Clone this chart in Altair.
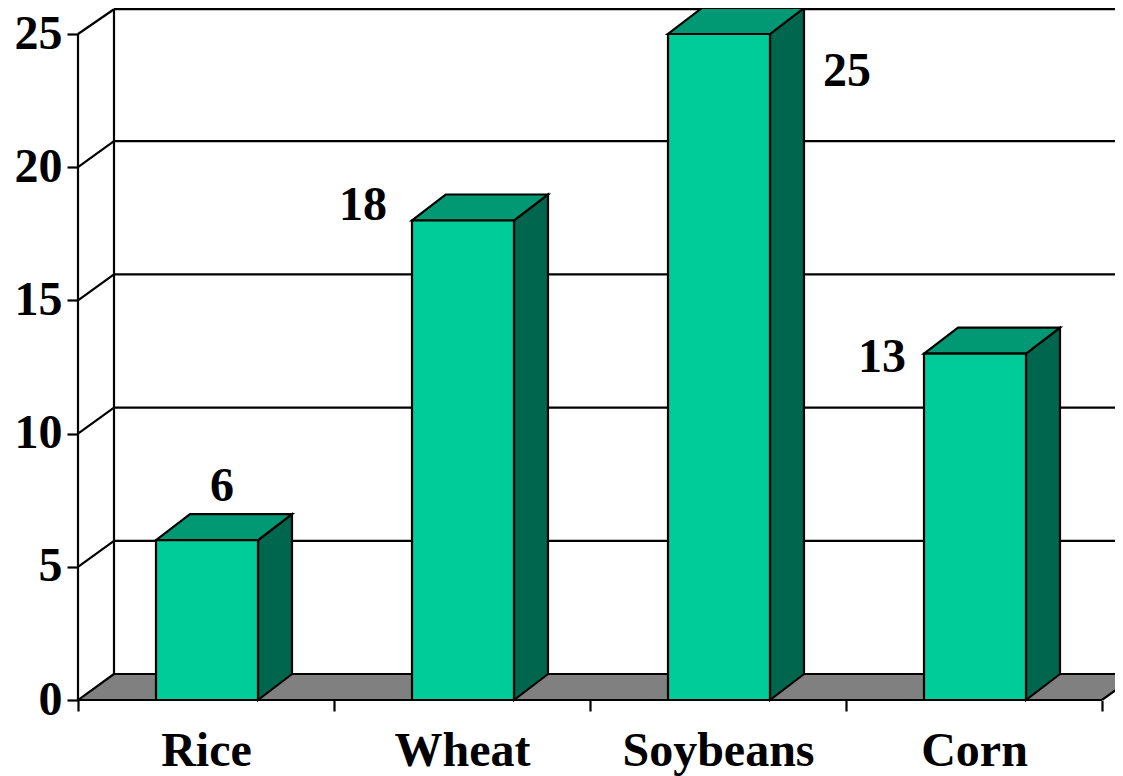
import altair as alt
import pandas as pd

categories = ["Rice", "Wheat", "Soybeans", "Corn"]
values = [6, 18, 25, 13]
y_ticks = [0, 5, 10, 15, 20, 25]
x_ticks = [0, 1, 2, 3, 4]
label_shift = [(15, -39), (-100, 0), (128, 52), (-93, 18)]

PX_X = 256.0
PX_Y = 26.64
VIEW_W = 1037
VIEW_H = 692
DX = 36 / PX_X
BAR_DX = 34 / PX_X
DY = 26 / PX_Y
BAR_GAP = 78 / PX_X
BAR_W = 102 / PX_X
N = len(categories)
TOP = 25.93
FONT = "Liberation Serif"

xs = alt.Scale(domain=[0, VIEW_W / PX_X], range=[0, VIEW_W], nice=False, zero=False)
ys = alt.Scale(domain=[0, VIEW_H / PX_Y], range=[VIEW_H, 0], nice=False, zero=False)
X = lambda f: alt.X(f"{f}:Q", scale=xs, title=None)
Y = lambda f: alt.Y(f"{f}:Q", scale=ys, title=None)
SW = 2.2

bars = pd.DataFrame({"cat": categories, "v": values})
bars["l"] = [i + BAR_GAP for i in range(N)]
bars["r"] = bars["l"] + BAR_W
bars["base"] = 0.0

side_rows, top_rows = [], []
for c, l, r, v in zip(categories, bars["l"], bars["r"], values):
    side_rows += [
        {"cat": c, "x": r, "y": 0.0, "y2": v},
        {"cat": c, "x": r + BAR_DX, "y": DY, "y2": v + DY},
    ]
    top_rows += [
        {"cat": c, "y": v, "x": l, "x2": r},
        {"cat": c, "y": v + DY, "x": l + BAR_DX, "x2": r + BAR_DX},
    ]
side = pd.DataFrame(side_rows)
top = pd.DataFrame(top_rows)

axes_layer = alt.Chart(pd.DataFrame({"x": [0.0], "y": [0.0]})).mark_point(opacity=0).encode(
    x=alt.X(
        "x:Q",
        scale=xs,
        title=None,
        axis=alt.Axis(
            values=x_ticks,
            grid=False,
            domain=False,
            zindex=1,
            tickSize=11,
            tickWidth=SW,
            tickColor="black",
            labelExpr="['Rice','Wheat','Soybeans','Corn',''][datum.value]",
            labelOffset=128,
            labelFont=FONT,
            labelFontSize=48,
            labelFontWeight="bold",
            labelColor="black",
            labelPadding=16,
            labelLimit=400,
            labelOverlap=False,
            labelBound=False,
            labelFlush=False,
        ),
    ),
    y=alt.Y(
        "y:Q",
        scale=ys,
        title=None,
        axis=alt.Axis(
            values=y_ticks,
            grid=False,
            domain=False,
            zindex=1,
            tickSize=11,
            tickWidth=SW,
            tickColor="black",
            labelFont=FONT,
            labelFontSize=48,
            labelFontWeight="bold",
            labelColor="black",
            labelPadding=5,
            labelOverlap=False,
            labelBound=False,
            labelFlush=False,
        ),
    ),
)

floor = pd.DataFrame({"y": [0.0, DY], "x": [0.0, DX], "x2": [float(N), N + DX]})
floor_layer = alt.Chart(floor).mark_area(
    orient="horizontal", color="#808080", stroke="black", strokeWidth=SW, clip=True
).encode(y=Y("y"), x=X("x"), x2="x2:Q")

grid = pd.DataFrame({"v": [t + DY for t in y_ticks[1:-1]] + [TOP], "a": DX, "b": VIEW_W / PX_X})
grid_layer = alt.Chart(grid).mark_rule(color="black", strokeWidth=SW).encode(
    y=Y("v"), x=X("a"), x2="b:Q"
)

walls = pd.DataFrame({"x": [0.0, DX], "a": [0.0, DY], "b": [25.0, TOP]})
wall_layer = alt.Chart(walls).mark_rule(color="black", strokeWidth=SW).encode(
    x=X("x"), y=Y("a"), y2="b:Q"
)

diag = pd.DataFrame(
    [{"t": t, "x": 0.0, "y": float(t)} for t in y_ticks[1:]]
    + [{"t": t, "x": DX, "y": min(t + DY, TOP)} for t in y_ticks[1:]]
)
diag_layer = alt.Chart(diag).mark_line(color="black", strokeWidth=SW).encode(
    x=X("x"), y=Y("y"), detail="t:N"
)

side_layer = alt.Chart(side).mark_area(
    color="#00664D", stroke="black", strokeWidth=SW
).encode(x=X("x"), y=Y("y"), y2="y2:Q", detail="cat:N")

top_layer = alt.Chart(top).mark_area(
    orient="horizontal", color="#009973", stroke="black", strokeWidth=SW, clip=False
).encode(y=Y("y"), x=X("x"), x2="x2:Q", detail="cat:N")

front_layer = alt.Chart(bars).mark_rect(
    color="#00CC99", stroke="black", strokeWidth=SW
).encode(x=X("l"), x2="r:Q", y=Y("base"), y2="v:Q")

baseline = pd.DataFrame({"a": [0.0], "b": [float(N)], "y": [0.0]})
base_layer = alt.Chart(baseline).mark_rule(color="black", strokeWidth=SW).encode(
    x=X("a"), x2="b:Q", y=Y("y")
)

labels = []
for i, (c, v) in enumerate(zip(categories, values)):
    d = pd.DataFrame({"x": [i + BAR_GAP + BAR_W / 2], "y": [float(v)], "t": [str(v)]})
    labels.append(
        alt.Chart(d).mark_text(
            font=FONT, fontSize=48, fontWeight="bold", color="black",
            dx=label_shift[i][0], dy=label_shift[i][1], baseline="alphabetic",
        ).encode(x=X("x"), y=Y("y"), text="t:N")
    )

chart = alt.layer(
    axes_layer, floor_layer, grid_layer, wall_layer, diag_layer,
    side_layer, top_layer, front_layer, base_layer, *labels,
).properties(
    width=VIEW_W,
    height=VIEW_H,
    padding={"left": 70, "top": 0, "right": 0, "bottom": 76},
    autosize=alt.AutoSizeParams(type="none"),
    background="white",
).configure_view(stroke=None)

chart.save("out.html", embed_options={"renderer": "svg", "actions": False})
